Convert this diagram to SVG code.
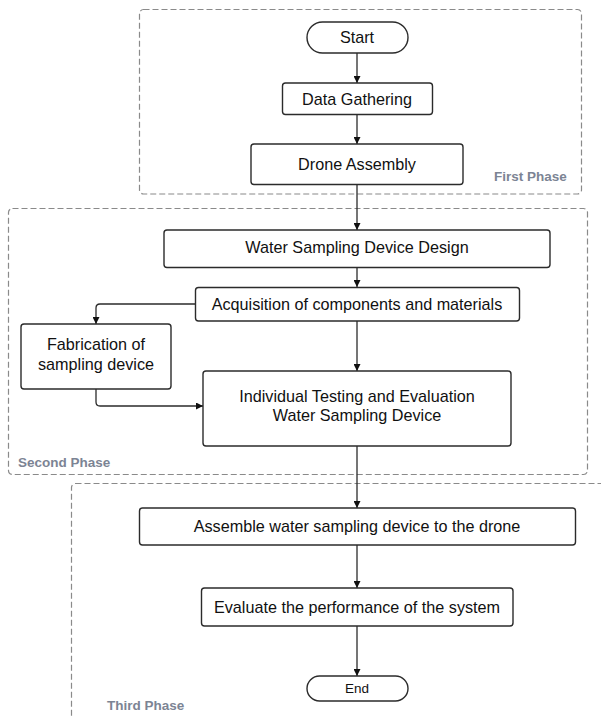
<svg xmlns="http://www.w3.org/2000/svg" width="601" height="717" viewBox="0 0 601 717">
<defs>
<marker id="arr" viewBox="0 0 10 10" refX="10" refY="5" markerWidth="7" markerHeight="7" markerUnits="userSpaceOnUse" orient="auto">
<path d="M0,0 L10,5 L0,10 Z" fill="#111"/>
</marker>
<style>
.phase{fill:none;stroke:#8a8a8a;stroke-width:1.2;stroke-dasharray:6,3}
.plabel{font-family:"Liberation Sans",Arial,sans-serif;font-weight:bold;font-size:13.5px;fill:#7c8494}
.box{fill:#fff;stroke:#2b2b2b;stroke-width:1.4}
.t{font-family:"Liberation Sans",Arial,sans-serif;font-size:16.2px;fill:#111;text-anchor:middle}
.c{fill:none;stroke:#2b2b2b;stroke-width:1.3;marker-end:url(#arr)}
</style>
</defs>
<rect width="601" height="717" fill="#fff"/>
<g id="phases">
<rect class="phase" x="139.5" y="9.5" width="442" height="184.5" rx="4"/>
<text class="plabel" x="494" y="181">First Phase</text>
<rect class="phase" x="8.5" y="208.5" width="579" height="266" rx="4"/>
<text class="plabel" x="18" y="467">Second Phase</text>
<rect class="phase" x="71.5" y="483.5" width="545" height="260" rx="4"/>
<text class="plabel" x="107" y="710">Third Phase</text>
</g>
<g id="connectors">
<line class="c" x1="357" y1="53" x2="357" y2="83"/>
<line class="c" x1="357" y1="114.5" x2="357" y2="144"/>
<line class="c" x1="357" y1="184.5" x2="357" y2="230"/>
<line class="c" x1="357" y1="267.5" x2="357" y2="287"/>
<path class="c" d="M195.5,304 H100 Q96,304 96,308 V324"/>
<line class="c" x1="357" y1="321" x2="357" y2="371"/>
<path class="c" d="M96,389 V402 Q96,406 100,406 H203"/>
<line class="c" x1="357" y1="446" x2="357" y2="508"/>
<line class="c" x1="357" y1="545" x2="357" y2="588"/>
<line class="c" x1="357" y1="626" x2="357" y2="676"/>
</g>
<g id="start">
<rect class="box" x="307" y="22" width="101" height="31" rx="15.5"/>
<text class="t" x="357" y="42.5">Start</text>
</g>
<g id="data-gathering">
<rect class="box" x="282.5" y="83" width="150" height="31.5" rx="3"/>
<text class="t" x="357" y="104.5">Data Gathering</text>
</g>
<g id="drone-assembly">
<rect class="box" x="251" y="144" width="212" height="40.5" rx="3"/>
<text class="t" x="357" y="169.5">Drone Assembly</text>
</g>
<g id="wsd-design">
<rect class="box" x="164" y="230" width="386" height="37.5" rx="3"/>
<text class="t" x="357" y="252.5">Water Sampling Device Design</text>
</g>
<g id="acquisition">
<rect class="box" x="195.5" y="287.5" width="324" height="33.5" rx="3"/>
<text class="t" x="357" y="309.5">Acquisition of components and materials</text>
</g>
<g id="fabrication">
<rect class="box" x="21" y="324" width="150" height="65" rx="3"/>
<text class="t" x="96" y="350">Fabrication of</text>
<text class="t" x="96" y="370">sampling device</text>
</g>
<g id="testing">
<rect class="box" x="203" y="371" width="308" height="75" rx="3"/>
<text class="t" x="357" y="401.5">Individual Testing and Evaluation</text>
<text class="t" x="357" y="421">Water Sampling Device</text>
</g>
<g id="assemble">
<rect class="box" x="139.5" y="508" width="436" height="37" rx="3"/>
<text class="t" x="357" y="532">Assemble water sampling device to the drone</text>
</g>
<g id="evaluate">
<rect class="box" x="201.5" y="588" width="311.5" height="38" rx="3"/>
<text class="t" x="357" y="612.5">Evaluate the performance of the system</text>
</g>
<g id="end">
<rect class="box" x="307" y="676" width="101" height="25" rx="12.5"/>
<text class="t" x="357" y="693" style="font-size:13.5px">End</text>
</g>
</svg>
